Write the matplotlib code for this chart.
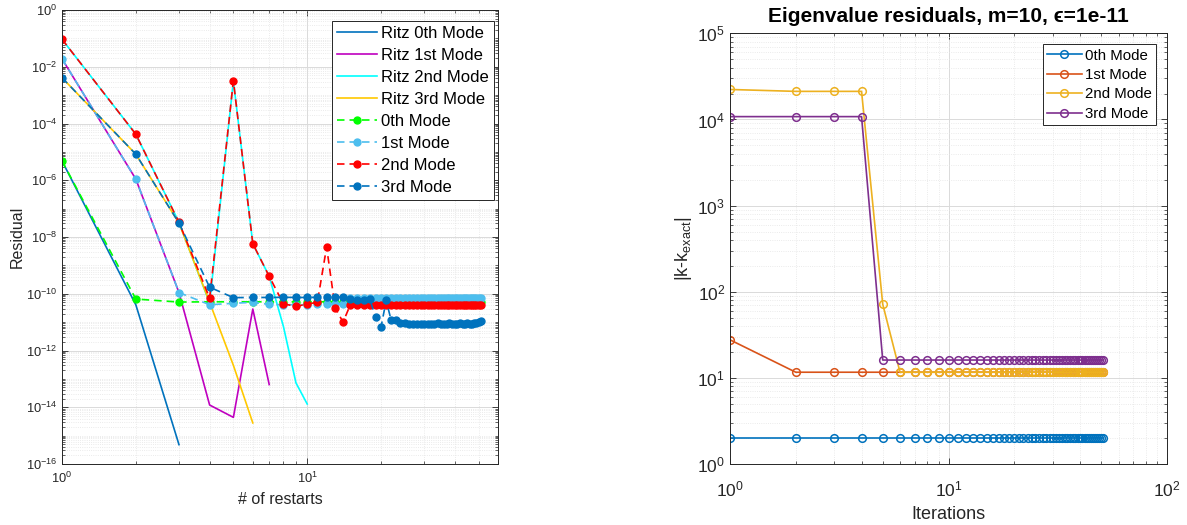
"""Restart residuals (left) and eigenvalue residuals (right), MATLAB-style log plots."""
import matplotlib
matplotlib.use("Agg")
import matplotlib.pyplot as plt
from matplotlib.ticker import FixedLocator, LogLocator, NullFormatter

plt.rcParams["font.family"] = ["Liberation Sans", "DejaVu Sans"]
plt.rcParams["mathtext.fontset"] = "custom"
plt.rcParams["mathtext.rm"] = "Liberation Sans"
plt.rcParams["mathtext.it"] = "Liberation Sans:italic"
plt.rcParams["mathtext.bf"] = "Liberation Sans:bold"

# ---- left panel: residual vs. number of restarts ----
RESTARTS = list(range(1, 52))

RITZ_0 = [4.8e-6, 4.1e-11, 4.8e-16]
RITZ_1 = [1.9e-2, 1.1e-6, 1.1e-10, 1.2e-14, 4.4e-15, 2.9e-11, 6.3e-14]
RITZ_2 = [9.3e-2, 4.2e-5, 3.3e-8, 4.7e-11, 3.2e-3, 5.8e-9, 4.1e-10, 7.0e-12, 7.2e-14, 1.3e-14]
RITZ_3 = [4.1e-3, 8.3e-6, 3.1e-8, 5.0e-11, 3.0e-13, 2.8e-15]

MODE_0 = [4.8e-6, 6.5e-11, 5.1e-11,
          5.2e-11, 5.2e-11, 5.2e-11, 5.2e-11, 5.2e-11, 5.2e-11, 5.2e-11, 5.2e-11, 5.2e-11, 5.2e-11, 5.2e-11, 5.2e-11,
          5.2e-11, 5.2e-11, 5.2e-11, 5.2e-11, 5.2e-11, 5.2e-11, 5.2e-11, 5.2e-11, 5.2e-11, 5.2e-11, 5.2e-11, 5.2e-11,
          5.2e-11, 5.2e-11, 5.2e-11, 5.2e-11, 5.2e-11, 5.2e-11, 5.2e-11, 5.2e-11, 5.2e-11, 5.2e-11, 5.2e-11, 5.2e-11,
          5.2e-11, 5.2e-11, 5.2e-11, 5.2e-11, 5.2e-11, 5.2e-11, 5.2e-11, 5.2e-11, 5.2e-11, 5.2e-11, 5.2e-11, 5.2e-11]
MODE_1 = [1.9e-2, 1.1e-6, 1.1e-10, 4.1e-11, 4.6e-11, 5.0e-11, 4.2e-11, 4.1e-11, 4.1e-11, 4.1e-11, 4.2e-11, 4.3e-11,
          4.4e-11, 4.4e-11,
          7.0e-11, 7.0e-11, 7.0e-11, 7.0e-11, 7.0e-11, 7.0e-11, 7.0e-11, 7.0e-11, 7.0e-11, 7.0e-11, 7.0e-11, 7.0e-11,
          7.0e-11, 7.0e-11, 7.0e-11, 7.0e-11, 7.0e-11, 7.0e-11, 7.0e-11, 7.0e-11, 7.0e-11, 7.0e-11, 7.0e-11, 7.0e-11,
          7.0e-11, 7.0e-11, 7.0e-11, 7.0e-11, 7.0e-11, 7.0e-11, 7.0e-11, 7.0e-11, 7.0e-11, 7.0e-11, 7.0e-11, 7.0e-11,
          7.0e-11]
MODE_2 = [9.3e-2, 4.2e-5, 3.3e-8, 7.0e-11, 3.2e-3, 5.8e-9, 4.1e-10, 4.4e-11, 3.6e-11, 4.3e-11, 5.0e-11, 4.4e-9,
          3.2e-11, 1.0e-11,
          4.1e-11, 4.1e-11, 4.1e-11, 4.1e-11, 4.1e-11, 4.1e-11, 4.1e-11, 4.1e-11, 4.1e-11, 4.1e-11, 4.1e-11, 4.1e-11,
          4.1e-11, 4.1e-11, 4.1e-11, 4.1e-11, 4.1e-11, 4.1e-11, 4.1e-11, 4.1e-11, 4.1e-11, 4.1e-11, 4.1e-11, 4.1e-11,
          4.1e-11, 4.1e-11, 4.1e-11, 4.1e-11, 4.1e-11, 4.1e-11, 4.1e-11, 4.1e-11, 4.1e-11, 4.1e-11, 4.1e-11, 4.1e-11,
          4.1e-11]
MODE_3 = [4.1e-3, 8.3e-6, 3.1e-8, 1.7e-10,
          7.3e-11, 7.4e-11, 7.4e-11, 7.5e-11, 7.4e-11, 7.4e-11, 7.5e-11, 7.4e-11, 7.6e-11, 7.6e-11, 6.5e-11, 5.8e-11,
          6.0e-11, 6.5e-11,
          1.5e-11, 6.7e-12, 5.8e-11, 1.15e-11, 1.2e-11,
          9.5e-12, 9.0e-12, 8.8e-12, 8.6e-12, 8.7e-12, 8.9e-12, 8.8e-12, 8.6e-12, 8.7e-12, 8.9e-12, 9.1e-12, 8.8e-12,
          8.7e-12, 8.9e-12, 9.0e-12, 8.8e-12, 8.6e-12, 8.8e-12, 9.0e-12, 8.7e-12, 8.9e-12, 9.2e-12, 8.8e-12, 8.7e-12,
          9.0e-12, 9.4e-12, 1.0e-11, 1.1e-11]

RITZ_LABELS = ["Ritz 0th Mode", "Ritz 1st Mode", "Ritz 2nd Mode", "Ritz 3rd Mode"]
MODE_LABELS = ["0th Mode", "1st Mode", "2nd Mode", "3rd Mode"]
RITZ_COLORS = ["#0072BD", "#BF00BF", "#00FFFF", "#FFC800"]
MODE_COLORS = ["#00FF00", "#4DBEEE", "#FF0000", "#0072BD"]

# ---- right panel: eigenvalue residual vs. iterations ----
ITERATIONS = list(range(1, 52))
EIG_0 = [2.0, 2.0, 2.0, 2.0, 2.0, 2.0, 2.0, 2.0, 2.0, 2.0, 2.0, 2.0, 2.0, 2.0, 2.0, 2.0, 2.0,
         2.0, 2.0, 2.0, 2.0, 2.0, 2.0, 2.0, 2.0, 2.0, 2.0, 2.0, 2.0, 2.0, 2.0, 2.0, 2.0, 2.0,
         2.0, 2.0, 2.0, 2.0, 2.0, 2.0, 2.0, 2.0, 2.0, 2.0, 2.0, 2.0, 2.0, 2.0, 2.0, 2.0, 2.0]
EIG_1 = [27.8, 11.7, 11.7, 11.7, 11.7, 11.7, 11.7, 11.7, 11.7, 11.7, 11.7, 11.7, 11.7, 11.7, 11.7, 11.7, 11.7,
         11.7, 11.7, 11.7, 11.7, 11.7, 11.7, 11.7, 11.7, 11.7, 11.7, 11.7, 11.7, 11.7, 11.7, 11.7, 11.7, 11.7,
         11.7, 11.7, 11.7, 11.7, 11.7, 11.7, 11.7, 11.7, 11.7, 11.7, 11.7, 11.7, 11.7, 11.7, 11.7, 11.7, 11.7]
EIG_2 = [2.23e4, 2.12e4, 2.12e4, 2.12e4, 72.0, 11.7, 11.7, 11.7, 11.7, 11.7, 11.7, 11.7, 11.7, 11.7, 11.7, 11.7, 11.7,
         11.7, 11.7, 11.7, 11.7, 11.7, 11.7, 11.7, 11.7, 11.7, 11.7, 11.7, 11.7, 11.7, 11.7, 11.7, 11.7, 11.7,
         11.7, 11.7, 11.7, 11.7, 11.7, 11.7, 11.7, 11.7, 11.7, 11.7, 11.7, 11.7, 11.7, 11.7, 11.7, 11.7, 11.7]
EIG_3 = [1.08e4, 1.08e4, 1.08e4, 1.08e4, 16.2, 16.2, 16.2, 16.2, 16.2, 16.2, 16.2, 16.2, 16.2, 16.2, 16.2, 16.2, 16.2,
         16.2, 16.2, 16.2, 16.2, 16.2, 16.2, 16.2, 16.2, 16.2, 16.2, 16.2, 16.2, 16.2, 16.2, 16.2, 16.2, 16.2,
         16.2, 16.2, 16.2, 16.2, 16.2, 16.2, 16.2, 16.2, 16.2, 16.2, 16.2, 16.2, 16.2, 16.2, 16.2, 16.2, 16.2]
EIG_LABELS = ["0th Mode", "1st Mode", "2nd Mode", "3rd Mode"]
EIG_COLORS = ["#0072BD", "#D95319", "#EDB120", "#7E2F8E"]

INK = "#262626"


def matlab_axes(ax, tick_size):
    ax.set_xscale("log")
    ax.set_yscale("log")
    ax.tick_params(which="both", direction="in", top=True, right=True, colors=INK, labelsize=tick_size)
    ax.tick_params(which="major", length=4, width=0.6)
    ax.tick_params(which="minor", length=2, width=0.5)
    for spine in ax.spines.values():
        spine.set_color(INK)
        spine.set_linewidth(0.7)
    ax.grid(True, which="major", color="#dadada", linewidth=0.7)
    ax.grid(True, which="minor", color="#e4e4e4", linestyle=":", linewidth=0.6)
    ax.set_axisbelow(True)
    ax.xaxis.set_minor_locator(LogLocator(base=10, subs=range(1, 10), numticks=100))
    ax.yaxis.set_minor_locator(LogLocator(base=10, subs=range(1, 10), numticks=100))
    ax.xaxis.set_minor_formatter(NullFormatter())
    ax.yaxis.set_minor_formatter(NullFormatter())


fig = plt.figure(figsize=(11.87, 5.25), dpi=100)

# left panel
ax1 = fig.add_axes([62 / 1187, 61 / 525, 436 / 1187, 454 / 525])
matlab_axes(ax1, 9.3)
for vals, lab, col in zip([RITZ_0, RITZ_1, RITZ_2, RITZ_3], RITZ_LABELS, RITZ_COLORS):
    ax1.plot(RESTARTS[:len(vals)], vals, "-", color=col, lw=1.2, label=lab)
for vals, lab, col in zip([MODE_0, MODE_1, MODE_2, MODE_3], MODE_LABELS, MODE_COLORS):
    ax1.plot(RESTARTS, vals, "--", dashes=(4.5, 3), color=col, lw=1.2, marker="o", ms=5, mec=col, mfc=col,
             label=lab)
ax1.set_xlim(1, 60)
ax1.set_ylim(1e-16, 1)
ax1.yaxis.set_major_locator(FixedLocator([1e-16, 1e-14, 1e-12, 1e-10, 1e-8, 1e-6, 1e-4, 1e-2, 1]))
ax1.tick_params(axis="x", which="major", pad=5)
ax1.set_xlabel("# of restarts", fontsize=11.5, color=INK, labelpad=4)
ax1.set_ylabel("Residual", fontsize=11.5, color=INK, labelpad=1)
leg1 = ax1.legend(loc="upper right", bbox_to_anchor=(0.991, 0.976), borderaxespad=0, fontsize=12,
                  fancybox=False, framealpha=1, edgecolor=INK, handlelength=2.4, labelspacing=0.42,
                  borderpad=0.3, handletextpad=0.25)
leg1.get_frame().set_linewidth(0.7)

# right panel
ax2 = fig.add_axes([730 / 1187, 60.7 / 525, 437 / 1187, 431 / 525])
matlab_axes(ax2, 12.5)
for vals, lab, col in zip([EIG_0, EIG_1, EIG_2, EIG_3], EIG_LABELS, EIG_COLORS):
    ax2.plot(ITERATIONS, vals, "-", color=col, lw=1.2, marker="o", ms=5.5, mfc="none", mec=col, mew=1.1,
             label=lab)
ax2.set_xlim(1, 100)
ax2.set_ylim(1, 1e5)
ax2.tick_params(axis="x", which="major", pad=11)
ax2.set_xlabel("Iterations", fontsize=13, color=INK, labelpad=5)
ax2.set_ylabel("|k-k$_{\\mathrm{exact}}$|", fontsize=13, color=INK, labelpad=2)
ax2.set_title("Eigenvalue residuals, m=10, ϵ=1e-11", fontsize=15, fontweight="bold", pad=8)
leg2 = ax2.legend(loc="upper right", bbox_to_anchor=(0.975, 0.975), borderaxespad=0, fontsize=10.8,
                  fancybox=False, framealpha=1, edgecolor=INK, handlelength=2.3, labelspacing=0.36,
                  borderpad=0.3, handletextpad=0.2)
leg2.get_frame().set_linewidth(0.7)

fig.savefig("out.png", dpi=100)
